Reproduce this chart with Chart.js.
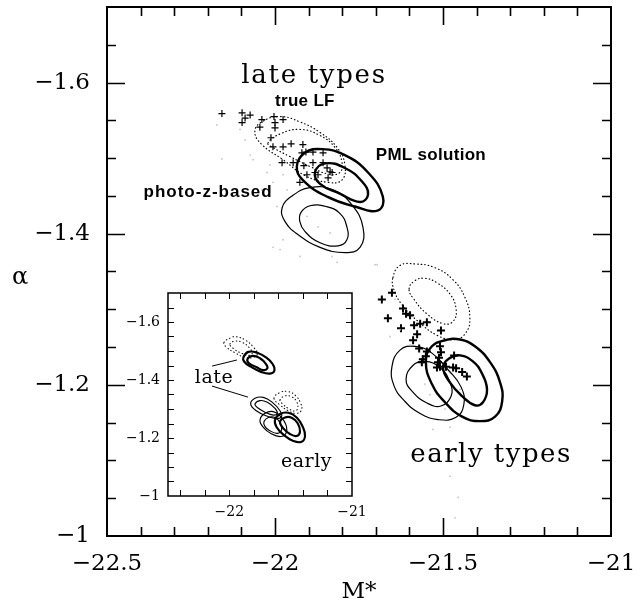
<!DOCTYPE html>
<html><head><meta charset="utf-8">
<script src="https://cdn.jsdelivr.net/npm/chart.js@4.4.1/dist/chart.umd.min.js"></script>
<style>
html,body{margin:0;padding:0;background:#fff;}
#wrap{position:relative;width:641px;height:607px;background:#fff;}
#main{position:absolute;left:0;top:0;width:641px;height:607px;}
#inset{position:absolute;left:120px;top:285px;width:245px;height:240px;}
</style></head><body>
<div id="wrap"><canvas id="main" width="641" height="607"></canvas><canvas id="inset" width="245" height="240"></canvas></div>
<script>
// ---------- axis tick labels ----------
const MAIN_X_TICKS = [-22.5, -22, -21.5, -21];
const MAIN_Y_TICKS = [-1.6, -1.4, -1.2, -1];
const INSET_X_TICKS = [-22, -21];
const INSET_Y_TICKS = [-1.6, -1.4, -1.2, -1];

// ---------- main panel: confidence contours (M*, alpha) ----------
// late types
const lateTrueLF_1 = [[-22.060,-1.535],[-22.039,-1.548],[-21.985,-1.555],[-21.926,-1.548],[-21.866,-1.534],[-21.815,-1.514],[-21.792,-1.491],[-21.801,-1.471],[-21.842,-1.468],[-21.911,-1.477],[-21.976,-1.498],[-22.039,-1.518]];
const lateTrueLF_2 = [[-22.021,-1.520],[-21.985,-1.532],[-21.926,-1.538],[-21.866,-1.530],[-21.821,-1.514],[-21.801,-1.495],[-21.807,-1.481],[-21.842,-1.479],[-21.896,-1.489],[-21.955,-1.502],[-22.006,-1.514]];
const latePML_1 = [[-21.935,-1.489],[-21.911,-1.507],[-21.860,-1.512],[-21.792,-1.504],[-21.723,-1.481],[-21.679,-1.449],[-21.693,-1.431],[-21.762,-1.436],[-21.845,-1.449],[-21.917,-1.471]];
const latePML_2 = [[-21.881,-1.481],[-21.851,-1.493],[-21.792,-1.487],[-21.741,-1.469],[-21.723,-1.452],[-21.747,-1.442],[-21.807,-1.453],[-21.866,-1.466]];
const latePhotoZ_1 = [[-21.979,-1.434],[-21.949,-1.450],[-21.896,-1.461],[-21.827,-1.458],[-21.771,-1.438],[-21.738,-1.408],[-21.747,-1.382],[-21.792,-1.375],[-21.866,-1.382],[-21.932,-1.399],[-21.970,-1.416]];
const latePhotoZ_2 = [[-21.923,-1.428],[-21.896,-1.437],[-21.848,-1.436],[-21.807,-1.427],[-21.786,-1.409],[-21.786,-1.392],[-21.812,-1.384],[-21.866,-1.388],[-21.911,-1.403],[-21.926,-1.416]];
// early types
const earlyTrueLF_1 = [[-21.649,-1.342],[-21.628,-1.358],[-21.583,-1.360],[-21.524,-1.355],[-21.470,-1.339],[-21.435,-1.316],[-21.420,-1.289],[-21.432,-1.269],[-21.464,-1.260],[-21.515,-1.265],[-21.574,-1.284],[-21.622,-1.306],[-21.646,-1.326]];
const earlyTrueLF_2 = [[-21.601,-1.327],[-21.583,-1.338],[-21.554,-1.341],[-21.518,-1.335],[-21.479,-1.320],[-21.461,-1.300],[-21.470,-1.284],[-21.500,-1.281],[-21.548,-1.294],[-21.586,-1.313]];
const earlyPhotoZ_1 = [[-21.652,-1.224],[-21.628,-1.246],[-21.583,-1.251],[-21.533,-1.242],[-21.485,-1.220],[-21.446,-1.197],[-21.438,-1.174],[-21.461,-1.157],[-21.515,-1.154],[-21.568,-1.162],[-21.613,-1.178],[-21.646,-1.199]];
const earlyPhotoZ_2 = [[-21.610,-1.207],[-21.589,-1.226],[-21.554,-1.231],[-21.509,-1.223],[-21.479,-1.203],[-21.476,-1.185],[-21.506,-1.172],[-21.548,-1.176],[-21.589,-1.190]];
const earlyPML_1 = [[-21.551,-1.231],[-21.533,-1.251],[-21.494,-1.259],[-21.449,-1.260],[-21.405,-1.251],[-21.360,-1.230],[-21.330,-1.203],[-21.324,-1.178],[-21.345,-1.158],[-21.390,-1.152],[-21.443,-1.158],[-21.494,-1.177],[-21.533,-1.201]];
const earlyPML_2 = [[-21.500,-1.223],[-21.482,-1.235],[-21.449,-1.239],[-21.411,-1.231],[-21.384,-1.215],[-21.369,-1.194],[-21.381,-1.177],[-21.405,-1.173],[-21.443,-1.185],[-21.479,-1.203]];

// ---------- main panel: individual mock-catalogue solutions ----------
const lateCrosses = [[-22.158,-1.559],[-22.098,-1.560],[-22.089,-1.553],[-22.074,-1.557],[-22.098,-1.547],[-22.039,-1.551],[-22.045,-1.541],[-22.003,-1.555],[-22.000,-1.547],[-21.976,-1.551],[-22.000,-1.540],[-22.012,-1.527],[-22.006,-1.515],[-21.976,-1.515],[-21.952,-1.519],[-21.917,-1.518],[-21.979,-1.494],[-21.946,-1.494],[-21.920,-1.507],[-21.908,-1.508],[-21.887,-1.508],[-21.857,-1.507],[-21.914,-1.490],[-21.905,-1.478],[-21.926,-1.468],[-21.881,-1.481],[-21.857,-1.494],[-21.845,-1.487],[-21.836,-1.482],[-21.830,-1.481],[-21.842,-1.474],[-21.872,-1.478],[-21.887,-1.494]];
const earlyCrosses = [[-21.682,-1.313],[-21.664,-1.288],[-21.625,-1.275],[-21.652,-1.322],[-21.619,-1.301],[-21.610,-1.294],[-21.598,-1.292],[-21.586,-1.279],[-21.568,-1.281],[-21.548,-1.283],[-21.506,-1.272],[-21.577,-1.267],[-21.589,-1.259],[-21.571,-1.248],[-21.548,-1.244],[-21.551,-1.238],[-21.560,-1.234],[-21.563,-1.230],[-21.509,-1.251],[-21.506,-1.243],[-21.512,-1.236],[-21.515,-1.230],[-21.518,-1.223],[-21.509,-1.224],[-21.491,-1.224],[-21.467,-1.239],[-21.470,-1.223],[-21.461,-1.222],[-21.443,-1.217],[-21.429,-1.211]];
const faintPoints = [[-22.173,-1.544],[-22.158,-1.499],[-22.089,-1.524],[-22.065,-1.498],[-22.024,-1.481],[-22.006,-1.468],[-21.994,-1.436],[-22.006,-1.382],[-21.976,-1.392],[-22.074,-1.504],[-22.015,-1.491],[-21.976,-1.478],[-21.905,-1.423],[-21.872,-1.409],[-21.836,-1.401],[-21.985,-1.379],[-21.926,-1.370],[-21.830,-1.370],[-21.815,-1.362],[-21.702,-1.359],[-21.964,-1.458],[-22.104,-1.538],[-22.039,-1.458],[-21.696,-1.359],[-21.658,-1.264],[-21.530,-1.141],[-21.479,-1.144],[-21.479,-1.079],[-21.643,-1.313],[-21.598,-1.253],[-21.539,-1.187],[-21.494,-1.168],[-21.455,-1.051],[-21.464,-1.024],[-21.628,-1.273],[-21.554,-1.201],[-21.449,-1.194]];

// ---------- inset panel contours ----------
const insetLateTrueLF_1 = [[-22.044,-1.529],[-21.986,-1.546],[-21.940,-1.549],[-21.864,-1.536],[-21.799,-1.511],[-21.772,-1.490],[-21.805,-1.478],[-21.872,-1.478],[-21.954,-1.494],[-22.022,-1.513]];
const insetLateTrueLF_2 = [[-21.995,-1.524],[-21.954,-1.534],[-21.891,-1.529],[-21.837,-1.511],[-21.813,-1.494],[-21.837,-1.485],[-21.900,-1.492],[-21.968,-1.509]];
const insetLatePML_1 = [[-21.886,-1.478],[-21.845,-1.497],[-21.772,-1.494],[-21.701,-1.478],[-21.647,-1.455],[-21.633,-1.432],[-21.669,-1.422],[-21.742,-1.428],[-21.826,-1.446],[-21.878,-1.463]];
const insetLatePML_2 = [[-21.853,-1.471],[-21.810,-1.483],[-21.750,-1.475],[-21.701,-1.455],[-21.690,-1.440],[-21.723,-1.434],[-21.777,-1.444],[-21.837,-1.457]];
const insetLatePhotoZ_1 = [[-21.826,-1.317],[-21.791,-1.337],[-21.723,-1.340],[-21.647,-1.322],[-21.587,-1.294],[-21.574,-1.274],[-21.614,-1.267],[-21.696,-1.276],[-21.777,-1.293]];
const insetLatePhotoZ_2 = [[-21.791,-1.317],[-21.750,-1.329],[-21.690,-1.323],[-21.628,-1.302],[-21.609,-1.285],[-21.642,-1.279],[-21.709,-1.289],[-21.772,-1.305]];
const insetEarlyTrueLF_1 = [[-21.636,-1.337],[-21.587,-1.357],[-21.519,-1.360],[-21.457,-1.345],[-21.419,-1.320],[-21.411,-1.297],[-21.451,-1.285],[-21.519,-1.294],[-21.587,-1.314]];
const insetEarlyTrueLF_2 = [[-21.587,-1.331],[-21.546,-1.345],[-21.492,-1.342],[-21.451,-1.325],[-21.443,-1.302],[-21.470,-1.293],[-21.519,-1.302],[-21.565,-1.317]];
const insetEarlyPhotoZ_1 = [[-21.750,-1.262],[-21.709,-1.285],[-21.642,-1.291],[-21.582,-1.274],[-21.538,-1.245],[-21.538,-1.216],[-21.582,-1.205],[-21.655,-1.214],[-21.723,-1.237]];
const insetEarlyPhotoZ_2 = [[-21.718,-1.256],[-21.682,-1.271],[-21.628,-1.271],[-21.587,-1.253],[-21.574,-1.228],[-21.609,-1.216],[-21.669,-1.225],[-21.709,-1.239]];
const insetEarlyPML_1 = [[-21.628,-1.262],[-21.587,-1.283],[-21.519,-1.287],[-21.451,-1.271],[-21.402,-1.239],[-21.383,-1.207],[-21.411,-1.187],[-21.479,-1.190],[-21.555,-1.210],[-21.614,-1.237]];
const insetEarlyPML_2 = [[-21.587,-1.256],[-21.546,-1.271],[-21.492,-1.270],[-21.443,-1.251],[-21.424,-1.222],[-21.451,-1.207],[-21.506,-1.214],[-21.560,-1.233]];
const insetLeader_1 = [[-22.141,-1.448],[-21.938,-1.469]];
const insetLeader_2 = [[-22.141,-1.379],[-21.848,-1.341]];

// ---------- helpers ----------
const fmt = v => (v < 0 ? '\u2212' : '') + String(Math.abs(Math.round(v * 100) / 100));
const toXY = pts => pts.map(p => ({x: p[0], y: p[1]}));

function contour(pts, kind, scale) {
  const w = kind === 'thick' ? 2.4 * scale : (kind === 'thin' ? 1.2 * scale : 1.15 * scale);
  return {
    data: toXY(pts), closed: true, showLine: true, tension: 0.45,
    borderColor: '#000', borderWidth: w,
    borderDash: kind === 'dot' ? [0.6, 3.0] : [],
    borderCapStyle: kind === 'dot' ? 'round' : 'butt',
    pointRadius: 0, pointHoverRadius: 0, fill: false
  };
}
function markers(pts, style, r, bw, color) {
  return {
    data: toXY(pts), showLine: false, pointStyle: style, pointRadius: r, pointHoverRadius: r,
    pointBorderWidth: bw, pointBorderColor: color, pointBackgroundColor: color
  };
}
function segLine(pts) {
  return {data: toXY(pts), showLine: true, tension: 0, borderColor: '#000', borderWidth: 1, pointRadius: 0, fill: false};
}
function minorTicks(min, max, step) {
  const out = [];
  const k0 = Math.ceil(min / step - 1e-6), k1 = Math.floor(max / step + 1e-6);
  for (let k = k0; k <= k1; k++) {
    const v = +(k * step).toFixed(6);
    if (Math.abs(v - min) > 1e-6 && Math.abs(v - max) > 1e-6) out.push(v);
  }
  return out;
}

// closes contour datasets into smooth loops
const loopClose = {
  id: 'loopClose',
  afterDatasetsUpdate(chart) {
    chart.data.datasets.forEach((ds, i) => {
      if (!ds.closed) return;
      const line = chart.getDatasetMeta(i).dataset;
      if (!line) return;
      line._loop = true; line._fullLoop = true;
      delete line._segments; delete line._path; line._pointsUpdated = false;
    });
  }
};
// frame with inward ticks on all sides
const frameTicks = {
  id: 'frameTicks',
  beforeDatasetsDraw(chart, args, o) {
    if (!o.whiteBg) return;
    const a = chart.chartArea, ctx = chart.ctx;
    ctx.save(); ctx.fillStyle = '#fff'; ctx.fillRect(a.left, a.top, a.right - a.left, a.bottom - a.top); ctx.restore();
  },
  afterDatasetsDraw(chart, args, o) {
    const {ctx, chartArea: a, scales: {x, y}} = chart;
    ctx.save();
    ctx.strokeStyle = '#000';
    ctx.lineWidth = o.tickWidth;
    const isMaj = (v, list) => list.some(m => Math.abs(m - v) < 1e-6);
    ctx.beginPath();
    minorTicks(x.min, x.max, o.xStep).forEach(v => {
      const p = Math.round(x.getPixelForValue(v)) + 0.5;
      const L = isMaj(v, o.xMajor) ? o.majorLen : o.minorLen;
      ctx.moveTo(p, a.bottom); ctx.lineTo(p, a.bottom - L);
      ctx.moveTo(p, a.top); ctx.lineTo(p, a.top + L);
    });
    minorTicks(Math.min(y.min, y.max), Math.max(y.min, y.max), o.yStep).forEach(v => {
      const p = Math.round(y.getPixelForValue(v)) + 0.5;
      const L = isMaj(v, o.yMajor) ? o.majorLen : o.minorLen;
      ctx.moveTo(a.left, p); ctx.lineTo(a.left + L, p);
      ctx.moveTo(a.right, p); ctx.lineTo(a.right - L, p);
    });
    ctx.stroke();
    ctx.lineWidth = o.frameWidth;
    ctx.strokeRect(a.left, a.top, a.right - a.left, a.bottom - a.top);
    ctx.restore();
  }
};
// text annotations anchored on the data scales
const annot = {
  id: 'annot',
  afterDraw(chart, args, o) {
    const {ctx, scales: {x, y}} = chart;
    (o.items || []).forEach(it => {
      ctx.save();
      ctx.font = it.font; ctx.fillStyle = '#000';
      ctx.textAlign = it.align || 'center'; ctx.textBaseline = it.baseline || 'alphabetic';
      if ('letterSpacing' in ctx) ctx.letterSpacing = (it.ls || 0) + 'px';
      const px = it.px !== undefined ? it.px : x.getPixelForValue(it.x);
      const py = it.py !== undefined ? it.py : y.getPixelForValue(it.y);
      ctx.fillText(it.text, px, py);
      ctx.restore();
    });
  }
};

const SERIF = "'DejaVu Serif', serif";
const BOLD = "bold 17px 'Liberation Sans', Arial, sans-serif";

// ---------- main chart ----------
new Chart(document.getElementById('main'), {
  type: 'line',
  data: {
    datasets: [
      markers(faintPoints, 'circle', 0.9, 0, '#c4c4c4'),
      markers(lateCrosses, 'cross', 3.5, 1.2, '#000'),
      markers(earlyCrosses, 'cross', 4, 2, '#000'),
      contour(lateTrueLF_1, 'dot', 1), contour(lateTrueLF_2, 'dot', 1),
      contour(latePhotoZ_1, 'thin', 1), contour(latePhotoZ_2, 'thin', 1),
      contour(latePML_1, 'thick', 1), contour(latePML_2, 'thick', 1),
      contour(earlyTrueLF_1, 'dot', 1), contour(earlyTrueLF_2, 'dot', 1),
      contour(earlyPhotoZ_1, 'thin', 1), contour(earlyPhotoZ_2, 'thin', 1),
      contour(earlyPML_1, 'thick', 1), contour(earlyPML_2, 'thick', 1)
    ]
  },
  options: {
    responsive: false, animation: false, devicePixelRatio: 1,
    layout: {padding: {left: 0, right: 30, top: 7, bottom: 0}},
    events: [],
    plugins: {
      legend: {display: false}, tooltip: {enabled: false},
      frameTicks: {tickWidth: 1.6, frameWidth: 2, xStep: 0.1, yStep: 0.05, xMajor: [-22, -21.5], yMajor: [-1.6, -1.4, -1.2], majorLen: 18, minorLen: 9},
      annot: {items: [
        {text: 'late types', x: -21.884, y: -1.600, font: '26px ' + SERIF, ls: 1.7},
        {text: 'true LF', x: -21.911, y: -1.569, font: BOLD, ls: 0.3},
        {text: 'PML solution', x: -21.536, y: -1.498, font: BOLD, ls: 0.3},
        {text: 'photo-z-based', x: -22.199, y: -1.448, font: BOLD, ls: 1},
        {text: 'early types', x: -21.357, y: -1.098, font: '26px ' + SERIF, ls: 1.5},
        {text: '\u03b1', px: 20, py: 278, font: '24px ' + SERIF, baseline: 'middle'}
      ]}
    },
    scales: {
      x: {
        type: 'linear', min: -22.5, max: -21, position: 'bottom',
        grid: {display: false, drawTicks: false}, border: {display: false},
        afterBuildTicks: s => { s.ticks = MAIN_X_TICKS.map(v => ({value: v})); },
        afterFit: s => { s.height = 71; s.paddingLeft = 0; s.paddingRight = 0; },
        ticks: {font: {family: 'DejaVu Serif', size: 23}, color: '#000', padding: 14, maxRotation: 0, autoSkip: false, callback: fmt},
        title: {display: true, text: 'M*', color: '#000', font: {family: 'DejaVu Serif', size: 23}, padding: {top: 0, bottom: 1}}
      },
      y: {
        type: 'linear', min: -1.7, max: -1.0, reverse: true,
        grid: {display: false, drawTicks: false}, border: {display: false},
        afterBuildTicks: s => { s.ticks = MAIN_Y_TICKS.map(v => ({value: v})); },
        afterFit: s => { s.width = 107; s.paddingTop = 0; s.paddingBottom = 0; },
        ticks: {font: {family: 'DejaVu Serif', size: 23}, color: '#000', padding: 17, autoSkip: false, callback: fmt}
      }
    }
  },
  plugins: [loopClose, frameTicks, annot]
});

// ---------- inset chart ----------
new Chart(document.getElementById('inset'), {
  type: 'line',
  data: {
    datasets: [
      contour(insetLateTrueLF_1, 'dot', 0.9), contour(insetLateTrueLF_2, 'dot', 0.9),
      contour(insetLatePML_1, 'thick', 0.9), contour(insetLatePML_2, 'thick', 0.9),
      contour(insetLatePhotoZ_1, 'thin', 0.95), contour(insetLatePhotoZ_2, 'thin', 0.95),
      contour(insetEarlyTrueLF_1, 'dot', 0.9), contour(insetEarlyTrueLF_2, 'dot', 0.9),
      contour(insetEarlyPhotoZ_1, 'thin', 0.95), contour(insetEarlyPhotoZ_2, 'thin', 0.95),
      contour(insetEarlyPML_1, 'thick', 0.9), contour(insetEarlyPML_2, 'thick', 0.9),
      segLine(insetLeader_1), segLine(insetLeader_2)
    ]
  },
  options: {
    responsive: false, animation: false, devicePixelRatio: 1,
    layout: {padding: {left: 0, right: 13, top: 8, bottom: 0}},
    events: [],
    plugins: {
      legend: {display: false}, tooltip: {enabled: false},
      frameTicks: {whiteBg: true, tickWidth: 1, frameWidth: 1.5, xStep: 0.2, yStep: 0.05, xMajor: [], yMajor: [], majorLen: 6, minorLen: 6},
      annot: {items: [
        {text: 'late', x: -22.125, y: -1.390, font: '19px ' + SERIF, ls: 0.5},
        {text: 'early', x: -21.371, y: -1.100, font: '19px ' + SERIF, ls: 0.5}
      ]}
    },
    scales: {
      x: {
        type: 'linear', min: -22.5, max: -21, position: 'bottom',
        grid: {display: false, drawTicks: false}, border: {display: false},
        afterBuildTicks: s => { s.ticks = INSET_X_TICKS.map(v => ({value: v})); },
        afterFit: s => { s.height = 29; s.paddingLeft = 0; s.paddingRight = 0; },
        ticks: {font: {family: 'DejaVu Serif', size: 14}, color: '#000', padding: 8, maxRotation: 0, autoSkip: false, callback: fmt}
      },
      y: {
        type: 'linear', min: -1.7, max: -1.0, reverse: true,
        grid: {display: false, drawTicks: false}, border: {display: false},
        afterBuildTicks: s => { s.ticks = INSET_Y_TICKS.map(v => ({value: v})); },
        afterFit: s => { s.width = 48; s.paddingTop = 0; s.paddingBottom = 0; },
        ticks: {font: {family: 'DejaVu Serif', size: 14}, color: '#000', padding: 8, autoSkip: false, callback: fmt}
      }
    }
  },
  plugins: [loopClose, frameTicks, annot]
});
</script>
</body></html>
